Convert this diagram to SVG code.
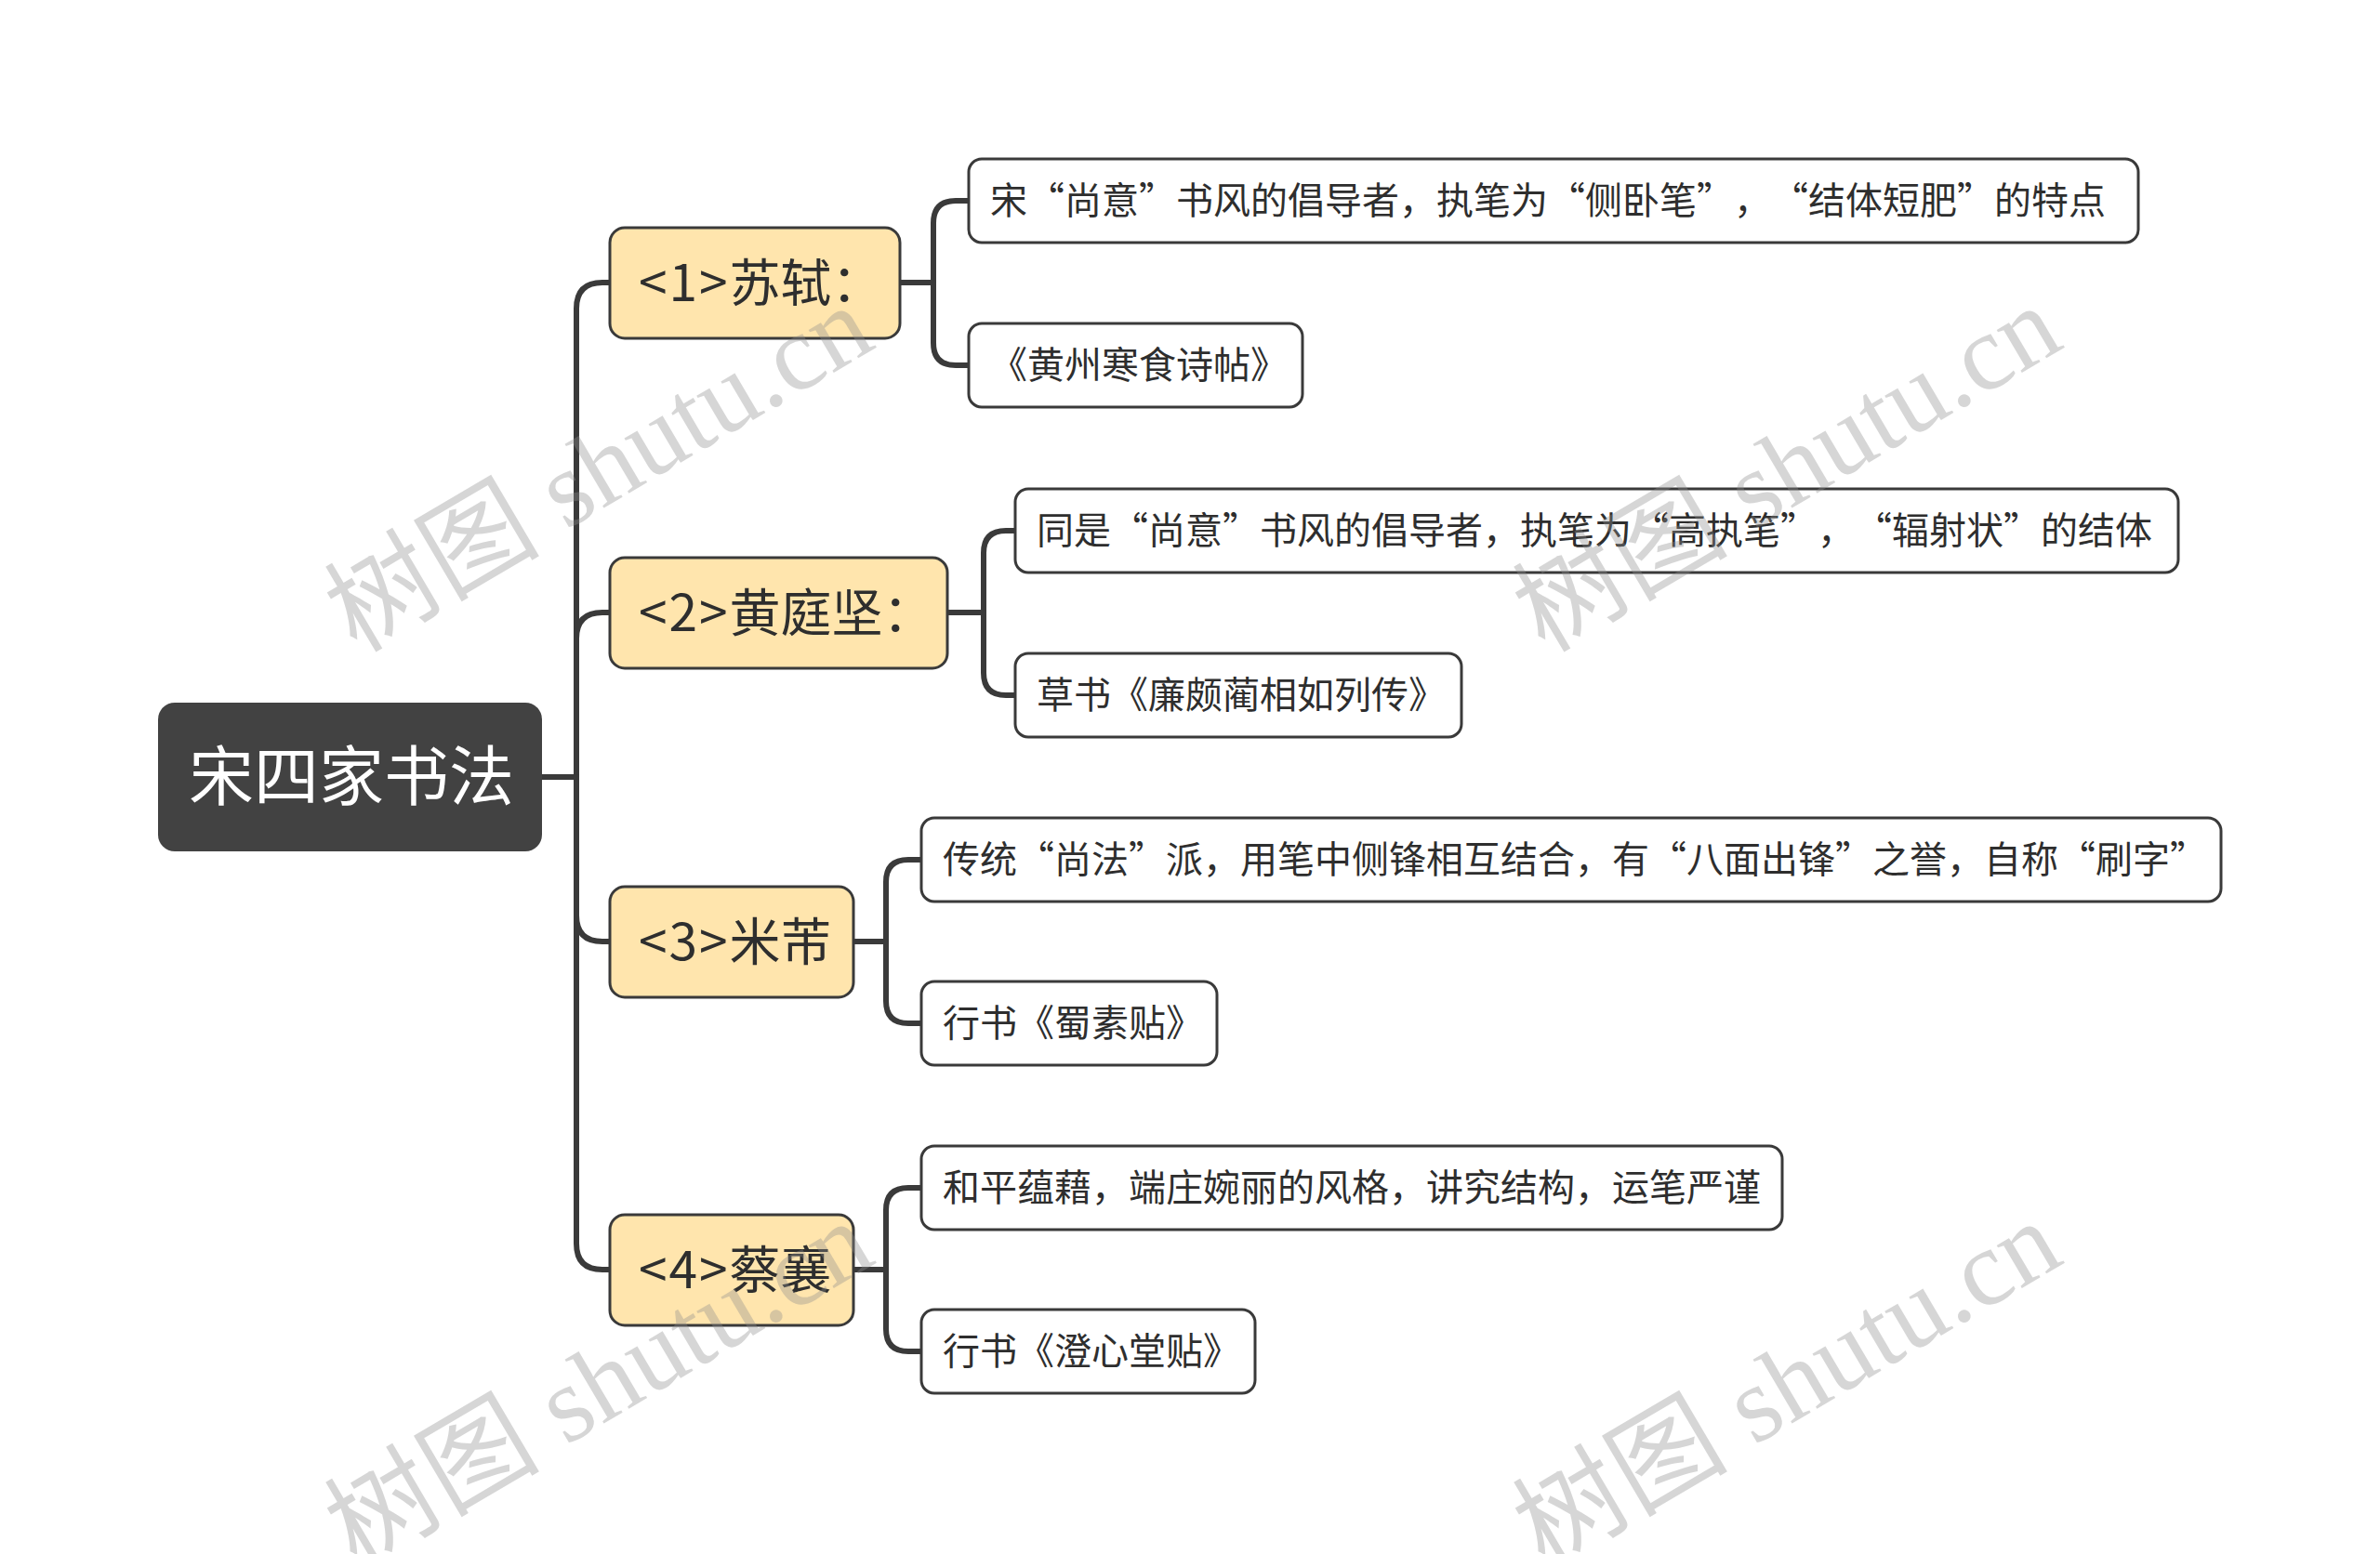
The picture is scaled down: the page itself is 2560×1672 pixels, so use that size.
<svg xmlns="http://www.w3.org/2000/svg" width="2560" height="1672" viewBox="0 0 2560 1672">
<style>
.conn{fill:none;stroke:#3a3a3a;stroke-width:6;stroke-linecap:round;stroke-linejoin:round}
.root rect{fill:#424242}
.root text{fill:#ffffff;font-size:70px}
.l1 rect{fill:#FFE5AD;stroke:#3a3a3a;stroke-width:3}
.l1 text{fill:#2e2e2e;font-size:55px}
.l1 tspan.n{letter-spacing:2px}
.leaf rect{fill:#ffffff;stroke:#3a3a3a;stroke-width:3}
.leaf text{fill:#2e2e2e;font-size:40px}
text{font-family:"Noto Sans CJK SC","Noto Sans",sans-serif;text-spacing-trim:space-all}
.wm{font-family:"Liberation Serif","Noto Sans CJK SC",serif;font-size:116px;fill:#8c8c8c;fill-opacity:0.36}
</style>
<rect width="2560" height="1672" fill="#ffffff"/>
<g id="connectors">
<path class="conn" d="M583 836 H620"/>
<path class="conn" d="M620 836 V332 Q620 304 648 304 H656"/>
<path class="conn" d="M620 836 V687 Q620 659 648 659 H656"/>
<path class="conn" d="M620 836 V985 Q620 1013 648 1013 H656"/>
<path class="conn" d="M620 836 V1338 Q620 1366 648 1366 H656"/>
<path class="conn" d="M968 304 H1004"/>
<path class="conn" d="M1004 304 V240 Q1004 216 1028 216 H1042"/>
<path class="conn" d="M1004 304 V369 Q1004 393 1028 393 H1042"/>
<path class="conn" d="M1019 659 H1058"/>
<path class="conn" d="M1058 659 V595 Q1058 571 1082 571 H1092"/>
<path class="conn" d="M1058 659 V724 Q1058 748 1082 748 H1092"/>
<path class="conn" d="M918 1013 H953"/>
<path class="conn" d="M953 1013 V949 Q953 925 977 925 H991"/>
<path class="conn" d="M953 1013 V1077 Q953 1101 977 1101 H991"/>
<path class="conn" d="M918 1366 H953"/>
<path class="conn" d="M953 1366 V1302 Q953 1278 977 1278 H991"/>
<path class="conn" d="M953 1366 V1430 Q953 1454 977 1454 H991"/>
</g>
<g id="root" class="root">
<rect x="170" y="756" width="413" height="160" rx="18"/>
<text x="203" y="861">宋四家书法</text>
</g>
<g id="n1" class="l1">
<rect x="656" y="245" width="312" height="119" rx="16"/>
<text x="687" y="324"><tspan class="n">&lt;1&gt;</tspan>苏轼：</text>
</g>
<g id="n2" class="l1">
<rect x="656" y="600" width="363" height="119" rx="16"/>
<text x="687" y="679"><tspan class="n">&lt;2&gt;</tspan>黄庭坚：</text>
</g>
<g id="n3" class="l1">
<rect x="656" y="954" width="262" height="119" rx="16"/>
<text x="687" y="1033"><tspan class="n">&lt;3&gt;</tspan>米芾</text>
</g>
<g id="n4" class="l1">
<rect x="656" y="1307" width="262" height="119" rx="16"/>
<text x="687" y="1386"><tspan class="n">&lt;4&gt;</tspan>蔡襄</text>
</g>
<g id="n1a" class="leaf">
<rect x="1042" y="171" width="1258" height="90" rx="14"/>
<text x="1065" y="230">宋“尚意”书风的倡导者，执笔为“侧卧笔”，“结体短肥”的特点</text>
</g>
<g id="n1b" class="leaf">
<rect x="1042" y="348" width="359" height="90" rx="14"/>
<text x="1065" y="407">《黄州寒食诗帖》</text>
</g>
<g id="n2a" class="leaf">
<rect x="1092" y="526" width="1251" height="90" rx="14"/>
<text x="1115" y="585">同是“尚意”书风的倡导者，执笔为“高执笔”，“辐射状”的结体</text>
</g>
<g id="n2b" class="leaf">
<rect x="1092" y="703" width="480" height="90" rx="14"/>
<text x="1115" y="762">草书《廉颇蔺相如列传》</text>
</g>
<g id="n3a" class="leaf">
<rect x="991" y="880" width="1398" height="90" rx="14"/>
<text x="1014" y="939">传统“尚法”派，用笔中侧锋相互结合，有“八面出锋”之誉，自称“刷字”</text>
</g>
<g id="n3b" class="leaf">
<rect x="991" y="1056" width="318" height="90" rx="14"/>
<text x="1014" y="1115">行书《蜀素贴》</text>
</g>
<g id="n4a" class="leaf">
<rect x="991" y="1233" width="926" height="90" rx="14"/>
<text x="1014" y="1292">和平蕴藉，端庄婉丽的风格，讲究结构，运笔严谨</text>
</g>
<g id="n4b" class="leaf">
<rect x="991" y="1409" width="359" height="90" rx="14"/>
<text x="1014" y="1468">行书《澄心堂贴》</text>
</g>
<g id="watermarks">
<text class="wm" text-anchor="middle" transform="translate(664,538) rotate(-30.5)">树图 shutu.cn</text>
<text class="wm" text-anchor="middle" transform="translate(1942,538) rotate(-30.5)">树图 shutu.cn</text>
<text class="wm" text-anchor="middle" transform="translate(664,1523) rotate(-30.5)">树图 shutu.cn</text>
<text class="wm" text-anchor="middle" transform="translate(1942,1523) rotate(-30.5)">树图 shutu.cn</text>
</g>
</svg>
